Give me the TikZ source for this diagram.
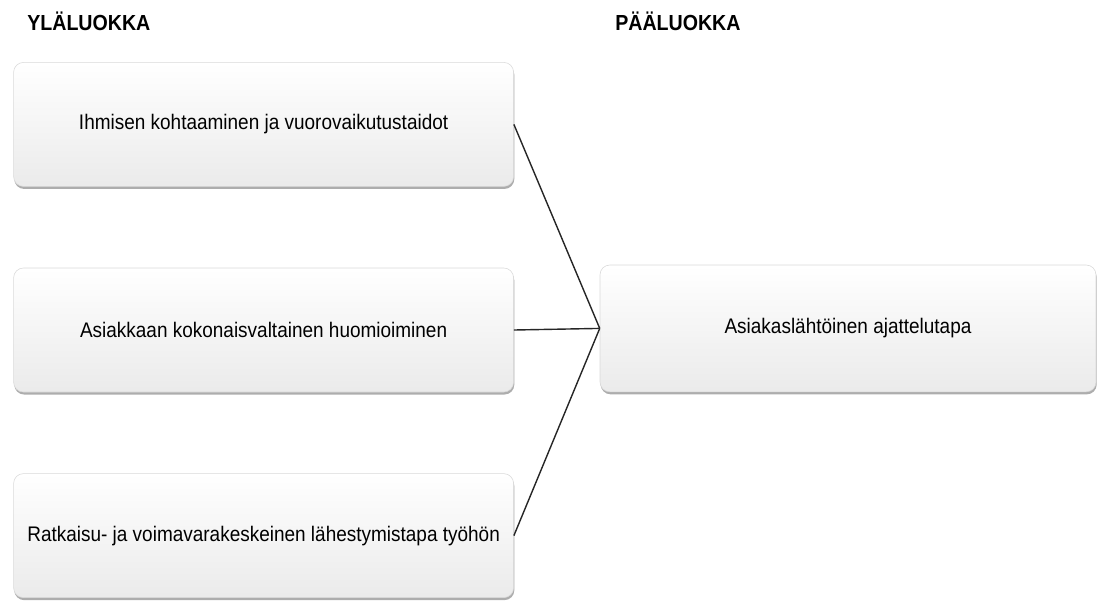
\documentclass[tikz,border=0pt]{standalone}
\usepackage{fontspec}
\setmainfont[FakeStretch=0.9]{Liberation Sans}
\usetikzlibrary{shadows}
\tikzset{
luokka/.style={draw=gray!30, line width=0.4pt, rounded corners=7pt,
  top color=white, bottom color=gray!16,
  drop shadow={shadow xshift=0.5pt, shadow yshift=-1.8pt, fill=gray!80, opacity=0.8},
  minimum width=12.5cm, minimum height=3.1cm, inner sep=0pt,
  font=\fontsize{15}{18}\selectfont},
otsikko/.style={anchor=west, inner sep=0pt, font=\fontsize{15.5}{18}\selectfont\bfseries},
yhteys/.style={line width=1pt, black!85}
}
\begin{document}
\begin{tikzpicture}
\useasboundingbox (0,0) rectangle (27.425,-15.025);
\node[otsikko] (yla) at (0.675,-0.53) {YLÄLUOKKA};
\node[otsikko] (paa) at (15.375,-0.53) {PÄÄLUOKKA};
\node[luokka] (ihminen) at (6.59,-3.11) {Ihmisen kohtaaminen ja vuorovaikutustaidot};
\node[luokka] (asiakas) at (6.59,-8.25) {Asiakkaan kokonaisvaltainen huomioiminen};
\node[luokka] (ratkaisu) at (6.59,-13.39) {Ratkaisu- ja voimavarakeskeinen lähestymistapa työhön};
\node[luokka, minimum width=12.4cm, minimum height=3.17cm] (ajattelu) at (21.2,-8.21) {Asiakaslähtöinen ajattelutapa};
\draw[yhteys] (ihminen.east) -- (ajattelu.west);
\draw[yhteys] (asiakas.east) -- (ajattelu.west);
\draw[yhteys] (ratkaisu.east) -- (ajattelu.west);
\end{tikzpicture}
\end{document}
